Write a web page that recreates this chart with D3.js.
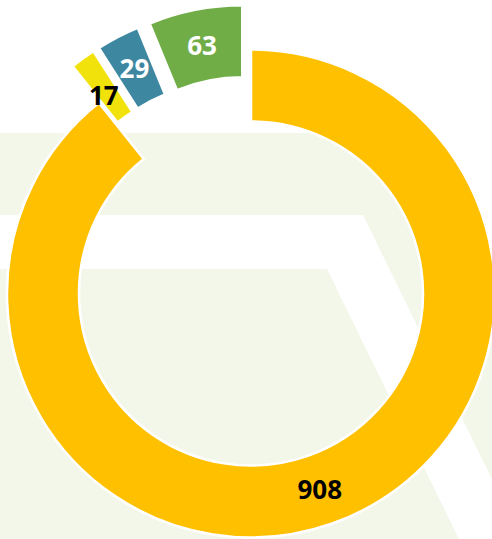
<!DOCTYPE html>
<html>
<head>
<meta charset="utf-8">
<script src="https://cdn.jsdelivr.net/npm/d3@7"></script>
<style>
  body { margin: 0; background: #fff; }
  svg { display: block; }
</style>
</head>
<body>
<div id="chart"></div>
<script>
const values = [908, 17, 29, 63];
const sliceColors = ["#FFC000", "#F2E20B", "#3D87A1", "#70AD47"];
const labelColors = ["#000", "#000", "#fff", "#fff"];
const exploded = [false, true, true, true];

const size = { x: 492, y: 539 };
const center = { x: 251, y: 293.5 };
const outerRadius = 244;
const innerRadius = 172;
const explodeBy = 45;
const pale = "#F3F7EA";

const svg = d3
  .select("#chart")
  .append("svg")
  .attr("width", size.x)
  .attr("height", size.y);

// background decoration
const bg = svg.append("g");
bg.append("polygon")
  .attr("points", "0,133 430,133 629,539 521,539 363,215 0,215")
  .attr("fill", pale);
bg.append("polygon")
  .attr("points", "0,269 327,269 459,539 0,539")
  .attr("fill", pale);

const pie = d3.pie().sort(null).value(d => d)(values);
const arc = d3.arc().innerRadius(innerRadius).outerRadius(outerRadius);

const offset = (d, i) => {
  if (!exploded[i]) return [0, 0];
  const a = (d.startAngle + d.endAngle) / 2;
  return [Math.sin(a) * explodeBy, -Math.cos(a) * explodeBy];
}

const slices = svg
  .append("g")
  .attr("transform", `translate(${center.x},${center.y})`)
  .selectAll(".slice")
  .data(pie)
  .enter()
  .append("g")
  .attr("class", "slice")
  .attr("transform", (d, i) => `translate(${offset(d, i)})`);

slices
  .append("path")
  .attr("d", arc)
  .attr("fill", (d, i) => sliceColors[i])
  .attr("stroke", "#fff")
  .attr("stroke-width", 2.5);

slices
  .append("text")
  .text(d => d.data)
  .attr("x", d => arc.centroid(d)[0])
  .attr("y", (d, i) => arc.centroid(d)[1] + (i === 1 ? 8 : 0))
  .attr("dy", "0.36em")
  .attr("text-anchor", "middle")
  .attr("font-family", "'Open Sans', sans-serif")
  .attr("font-size", "26px")
  .attr("font-weight", 700)
  .attr("fill", (d, i) => labelColors[i]);
</script>
</body>
</html>
